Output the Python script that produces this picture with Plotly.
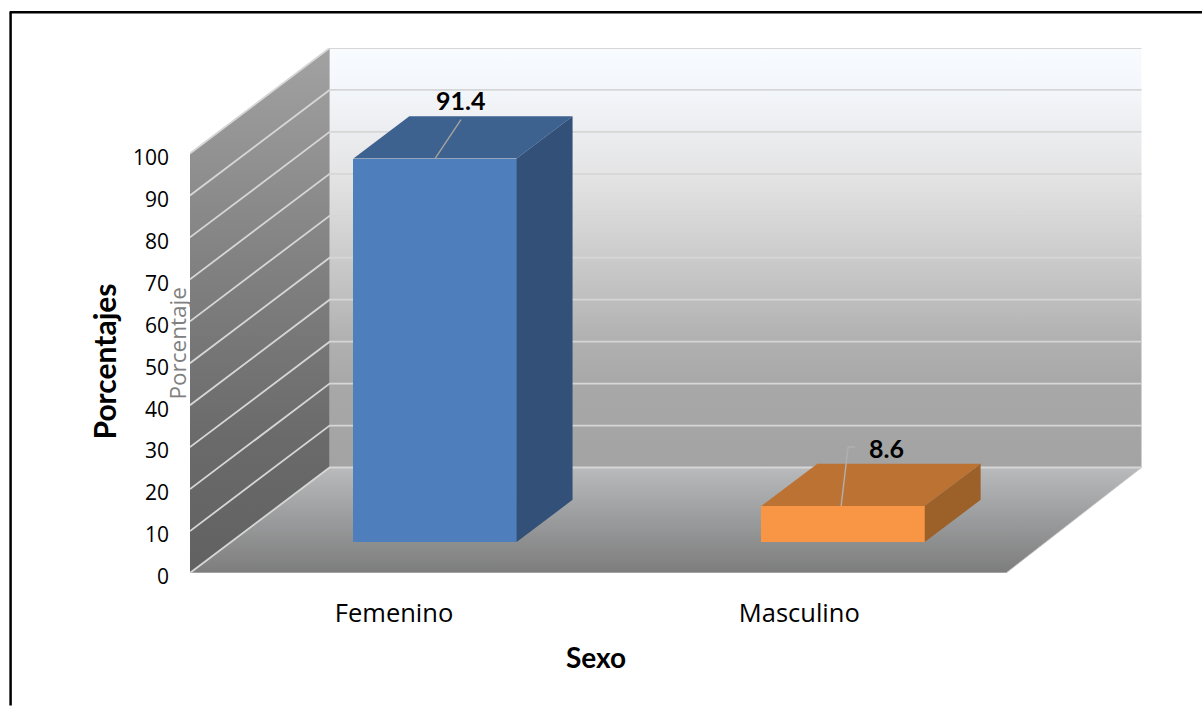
import plotly.graph_objects as go

# Chart data
categorias = ["Femenino", "Masculino"]
porcentajes = [91.4, 8.6]
ticks_y = [0, 10, 20, 30, 40, 50, 60, 70, 80, 90, 100]

# Canvas and plot box, in pixels
W, H = 1202, 706
LEFT, RIGHT, TOP, BOTTOM = 189.5, 1146.0, 47.7, 573.3
PX_X = 408.3   # pixels per category
PX_Y = 4.2     # pixels per percentage point

# Oblique depth of the box, in axis units
DX = 139.7 / PX_X
DY = 105.6 / PX_Y
BACK_TRIM = 4.3 / PX_X   # the back wall ends slightly short on the right

X0, X1 = -0.5, 1.5
RX = [X0, X0 + (RIGHT - LEFT) / PX_X]
RY = [0, (BOTTOM - TOP) / PX_Y]

# Depth span and width of the columns
T0, T1 = 0.2935, 0.694
ANCHO = 0.4


def proj(x, y, t):
    """Oblique projection of (category position, value, depth) onto the axes."""
    return x + t * DX, y + t * DY


def poly(points, xaxis, yaxis, gradient=None, color=None):
    xs = [p[0] for p in points] + [points[0][0]]
    ys = [p[1] for p in points] + [points[0][1]]
    trace = dict(x=xs, y=ys, mode="lines", fill="toself", line=dict(width=0),
                 hoverinfo="skip", showlegend=False, xaxis=xaxis, yaxis=yaxis)
    if gradient:
        trace["fillgradient"] = dict(type="vertical", colorscale=gradient)
    else:
        trace["fillcolor"] = color
    return go.Scatter(**trace)


def px_x(px):
    return (px - LEFT) / (RIGHT - LEFT)


def px_y(py):
    return (BOTTOM - py) / (BOTTOM - TOP)


fig = go.Figure()

# Back wall, side wall and floor, with their gradients
back_right = X1 + DX - BACK_TRIM
fig.add_trace(poly([(X0 + DX, DY), (back_right, DY), (back_right, 100 + DY), (X0 + DX, 100 + DY)],
                   "x", "y",
                   gradient=[[0, "#a3a3a3"], [0.2, "#a8a8a8"], [0.3, "#b0b0b0"], [0.4, "#bebebe"],
                             [0.5, "#cbcbcb"], [0.6, "#d8d8d8"], [0.7, "#e4e4e5"],
                             [0.8, "#ecedf0"], [0.9, "#f3f6fa"], [1, "#f8fcff"]]))
fig.add_trace(poly([(X0, 0), (X0 + DX, DY), (X0 + DX, 100 + DY), (X0, 100)],
                   "x", "y",
                   gradient=[[0, "#616161"], [0.25, "#6a6a6a"], [0.6, "#828283"], [1, "#a2a2a3"]]))
fig.add_trace(poly([(X0, 0), (X1, 0), (back_right, DY), (X0 + DX, DY)],
                   "x", "y",
                   gradient=[[0, "#7d7d7d"], [0.5, "#9a9b9c"], [1, "#b9babc"]]))

# Gridlines across the walls
grid_x, grid_y = [], []
for v in ticks_y:
    grid_x += [X0, X0 + DX, back_right, None]
    grid_y += [v, v + DY, v + DY, None]
fig.add_trace(go.Scatter(x=grid_x, y=grid_y, mode="lines",
                         line=dict(color="#d6d6d6", width=1.8),
                         hoverinfo="skip", showlegend=False, xaxis="x", yaxis="y"))
# Front and right rims of the floor
fig.add_trace(go.Scatter(x=[X0, X1, back_right], y=[0, 0, DY], mode="lines",
                         line=dict(color="#c8c8c8", width=1),
                         hoverinfo="skip", showlegend=False, xaxis="x", yaxis="y"))

# Column fronts sit on a second axis pair laid over the walls
colores_frente = ["#4e7fbc", "#f99646"]
colores_tope = ["#3d6290", "#bc7233"]
colores_lado = ["#325078", "#9c6029"]

base_y = T0 * DY
centros = [i + T0 * DX for i in range(len(categorias))]
fig.add_trace(go.Bar(x=centros, y=porcentajes, base=[base_y] * len(porcentajes),
                     width=ANCHO, marker=dict(color=colores_frente, line=dict(width=0)),
                     hoverinfo="skip", showlegend=False, xaxis="x2", yaxis="y2"))

for i, valor in enumerate(porcentajes):
    a, b = i - ANCHO / 2, i + ANCHO / 2
    fig.add_trace(poly([proj(a, valor, T0), proj(b, valor, T0), proj(b, valor, T1), proj(a, valor, T1)],
                       "x2", "y2", color=colores_tope[i]))
    fig.add_trace(poly([proj(b, 0, T0), proj(b, 0, T1), proj(b, valor, T1), proj(b, valor, T0)],
                       "x2", "y2", color=colores_lado[i]))

# Leader lines and value labels, placed relative to each column's top edge
guia_dx = [[0, 26 / PX_X], [-2 / PX_X, 5 / PX_X, 12 / PX_X]]
guia_dy = [[0, 39 / PX_Y], [0, 59 / PX_Y, 59 / PX_Y]]
guia_color = ["#a6a29c", "#b0b0b0"]
etiqueta_dx = [25 / PX_X, 43 / PX_X]
etiqueta_dy = [59 / PX_Y, 58 / PX_Y]

for i, valor in enumerate(porcentajes):
    cx, cy = proj(i, valor, T0)
    fig.add_trace(go.Scatter(x=[cx + d for d in guia_dx[i]], y=[cy + d for d in guia_dy[i]],
                             mode="lines", line=dict(color=guia_color[i], width=1.4),
                             hoverinfo="skip", showlegend=False, xaxis="x2", yaxis="y2"))
    fig.add_annotation(x=cx + etiqueta_dx[i], y=cy + etiqueta_dy[i], xref="x2", yref="y2",
                       text=f"<b>{valor}</b>", showarrow=False, xanchor="center", yanchor="middle",
                       font=dict(family="Lato", size=25, color="#000000"))

# Axis titles and the faint secondary caption
fig.add_annotation(x=px_x(103), y=px_y(362), xref="paper", yref="paper", text="<b>Porcentajes</b>",
                   textangle=-90, showarrow=False, xanchor="center", yanchor="middle",
                   font=dict(family="Lato", size=30, color="#000000"))
fig.add_annotation(x=px_x(596), y=px_y(657), xref="paper", yref="paper", text="<b>Sexo</b>",
                   showarrow=False, xanchor="center", yanchor="middle",
                   font=dict(family="Lato", size=28, color="#000000"))
fig.add_annotation(x=px_x(177), y=px_y(344), xref="paper", yref="paper", text="Porcentaje",
                   textangle=-90, showarrow=False, xanchor="center", yanchor="middle",
                   font=dict(family="Open Sans", size=22.5, color="#808080"))

fig.update_layout(
    width=W, height=H, autosize=False,
    margin=dict(l=LEFT, r=W - RIGHT, t=TOP, b=H - BOTTOM, pad=0),
    paper_bgcolor="#ffffff", plot_bgcolor="rgba(0,0,0,0)",
    bargap=0, barmode="overlay", showlegend=False,
    font=dict(family="Open Sans", size=21, color="#000000"),
    xaxis=dict(range=RX, tickmode="array", tickvals=[0, 0.993], ticktext=categorias,
               showgrid=False, zeroline=False, showline=False, ticks="",
               ticklabelstandoff=22, tickfont=dict(family="Open Sans", size=25.5, color="#000000"),
               fixedrange=True),
    yaxis=dict(range=RY, tickmode="array", tickvals=ticks_y, showgrid=False, zeroline=False,
               showline=False, ticks="", ticklabelstandoff=20, ticklabelshift=4,
               tickfont=dict(family="Open Sans", size=21, color="#000000"), fixedrange=True),
    xaxis2=dict(range=RX, overlaying="x", visible=False, fixedrange=True),
    yaxis2=dict(range=RY, overlaying="y", visible=False, fixedrange=True),
    shapes=[
        # Frame: only the top and left edges fall inside the canvas
        dict(type="line", xref="paper", yref="paper", x0=px_x(9), x1=px_x(W),
             y0=px_y(12), y1=px_y(12), line=dict(color="#000000", width=2.5)),
        dict(type="line", xref="paper", yref="paper", x0=px_x(10), x1=px_x(10),
             y0=px_y(12), y1=px_y(H), line=dict(color="#000000", width=2.5)),
    ],
)

fig.write_html("out.html")
